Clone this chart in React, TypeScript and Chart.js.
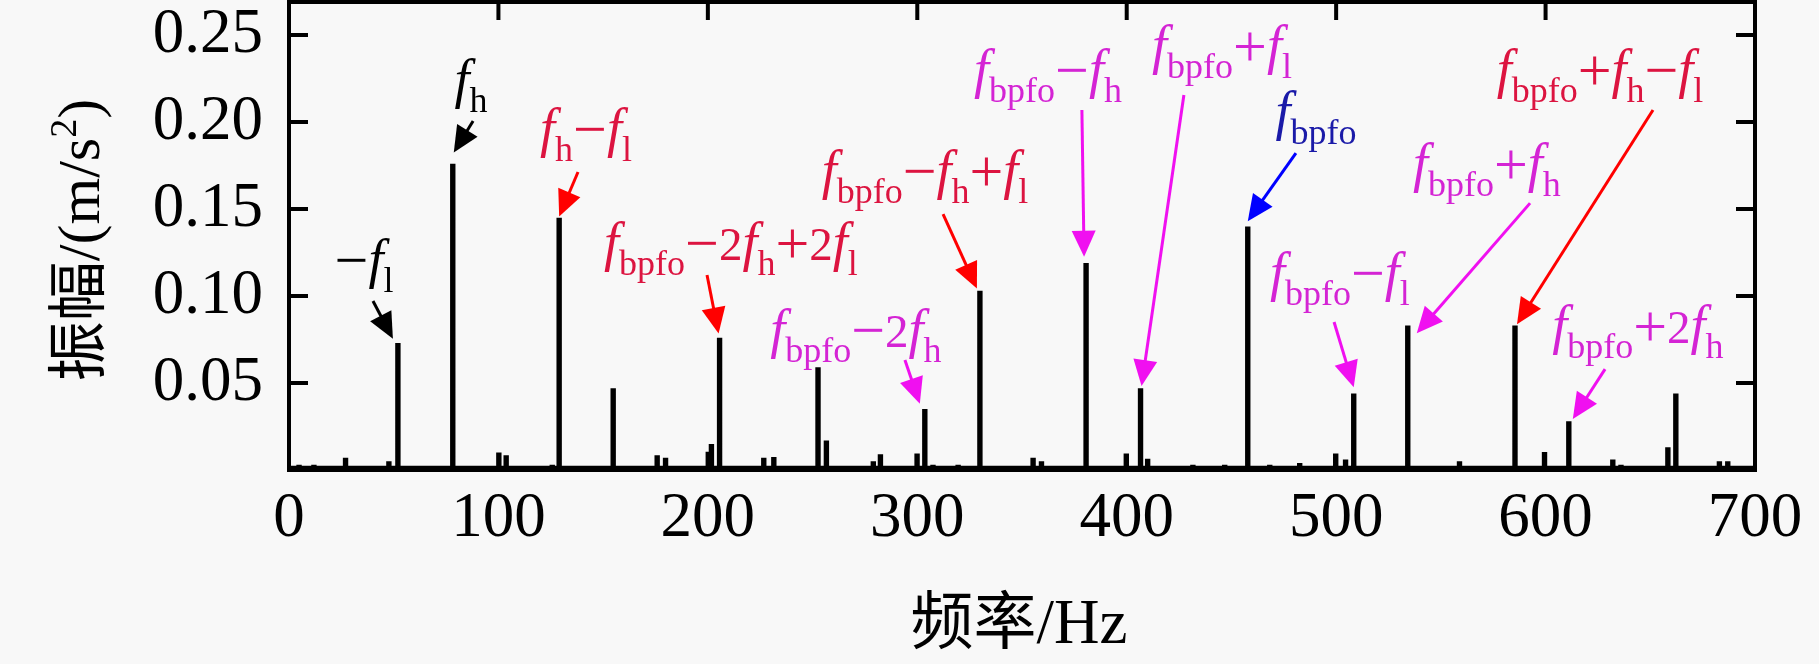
import React, { useEffect, useRef } from 'react';
import { Chart, registerables } from 'chart.js';

Chart.register(...registerables);

// ---------- data ----------
const peakFreqs = [
  4.8, 11.9, 27.0, 47.7, 52.0, 78.2, 100.2, 103.7, 125.7, 129.0, 154.8, 175.8, 179.8,
  200.2, 201.7, 205.6, 226.7, 231.5, 252.6, 256.6, 279.0, 282.4, 299.9, 303.6, 307.5,
  319.5, 329.9, 355.3, 359.3, 380.6, 399.8, 406.6, 410.0, 431.6, 446.8, 457.8, 468.3,
  482.6, 499.8, 504.5, 508.4, 534.2, 558.9, 585.4, 599.5, 611.1, 632.1, 636.0, 658.4,
  662.2, 683.0, 687.0,
];
const peakAmps = [
  0.002, 0.002, 0.006, 0.004, 0.072, 0.175, 0.009, 0.0075, 0.002, 0.144, 0.046, 0.0075, 0.006,
  0.0095, 0.014, 0.075, 0.006, 0.0065, 0.058, 0.016, 0.004, 0.008, 0.0085, 0.034, 0.002,
  0.002, 0.102, 0.006, 0.004, 0.118, 0.0085, 0.046, 0.0055, 0.002, 0.002, 0.139, 0.002,
  0.003, 0.0085, 0.005, 0.043, 0.082, 0.004, 0.082, 0.0094, 0.027, 0.005, 0.002, 0.012,
  0.043, 0.004, 0.004,
];
const noiseFloor = 0.0015;
const xTickValues = [0, 100, 200, 300, 400, 500, 600, 700];
const yTickValues = [0.05, 0.1, 0.15, 0.2, 0.25];
const xRange = [0, 700];
const yRange = [0, 0.269];
const xTitle = '频率/Hz';
const yTitleMain = '振幅/(m/s';
const yTitleSup = '2';
const yTitleEnd = ')';

// annotations: label (centre freq, baseline amp), arrow start (freq, amp), target peak freq
const RED_T = '#dc1440';
const RED_A = '#ff0000';
const MAG_T = '#d424d4';
const MAG_A = '#f010f0';
const BLUE_T = '#1a1aa8';
const BLUE_A = '#0000ff';
const BLK = '#000000';

type Ann = {
  text: string; tc: string; ac: string;
  lf: number; la: number; sf: number; sa: number;
  peak: number; tdx: number; tdy: number;
};
const annotations: Ann[] = [
  { text: '−f_{l}', tc: BLK, ac: BLK, lf: 35.8, la: 0.1109, sf: 40.1, sa: 0.0971, peak: 52.0, tdx: -5, tdy: -6 },
  { text: 'f_{h}', tc: BLK, ac: BLK, lf: 86.9, la: 0.2144, sf: 87.9, sa: 0.2006, peak: 78.2, tdx: 1, tdy: -13 },
  { text: 'f_{h}−f_{l}', tc: RED_T, ac: RED_A, lf: 141.8, la: 0.1862, sf: 138.0, sa: 0.1713, peak: 129.0, tdx: 0, tdy: -3 },
  { text: 'f_{bpfo}−2f_{h}+2f_{l}', tc: RED_T, ac: RED_A, lf: 211.0, la: 0.1207, sf: 199.6, sa: 0.1121, peak: 205.6, tdx: -1, tdy: -6 },
  { text: 'f_{bpfo}−2f_{h}', tc: MAG_T, ac: MAG_A, lf: 270.7, la: 0.0707, sf: 294.1, sa: 0.0632, peak: 303.6, tdx: -5, tdy: -7 },
  { text: 'f_{bpfo}−f_{h}+f_{l}', tc: RED_T, ac: RED_A, lf: 303.7, la: 0.1621, sf: 312.3, sa: 0.1471, peak: 329.9, tdx: -3, tdy: -4 },
  { text: 'f_{bpfo}−f_{h}', tc: MAG_T, ac: MAG_A, lf: 362.4, la: 0.2201, sf: 378.6, sa: 0.2069, peak: 380.6, tdx: -2, tdy: -8 },
  { text: 'f_{bpfo}+f_{l}', tc: MAG_T, ac: MAG_A, lf: 445.5, la: 0.2339, sf: 427.3, sa: 0.2155, peak: 406.6, tdx: 1, tdy: -4 },
  { text: 'f_{bpfo}', tc: BLUE_T, ac: BLUE_A, lf: 490.4, la: 0.196, sf: 480.8, sa: 0.1822, peak: 457.8, tdx: 0, tdy: -7 },
  { text: 'f_{bpfo}−f_{l}', tc: MAG_T, ac: MAG_A, lf: 501.8, la: 0.1034, sf: 499.0, sa: 0.0851, peak: 508.4, tdx: 0, tdy: -8 },
  { text: 'f_{bpfo}+f_{h}', tc: MAG_T, ac: MAG_A, lf: 572.0, la: 0.1661, sf: 592.6, sa: 0.1534, peak: 534.2, tdx: 9, tdy: 6 },
  { text: 'f_{bpfo}+f_{h}−f_{l}', tc: RED_T, ac: RED_A, lf: 626.0, la: 0.2201, sf: 651.3, sa: 0.2069, peak: 585.4, tdx: 2, tdy: -3 },
  { text: 'f_{bpfo}+2f_{h}', tc: MAG_T, ac: MAG_A, lf: 644.1, la: 0.073, sf: 628.4, sa: 0.058, peak: 611.1, tdx: 4, tdy: -4 },
];

// ---------- styles ----------
const SERIF = "'Liberation Serif', 'Times New Roman', serif";
const TITLE_FONT = "63px 'Liberation Serif', 'Noto Sans CJK SC', serif";
const YTITLE_FONT = "60px 'Liberation Serif', 'Noto Sans CJK SC', serif";
const SEG_FONT: Record<string, string> = {
  it: `italic 54px ${SERIF}`,
  sub: `36px ${SERIF}`,
  op: `60px ${SERIF}`,
  rm: `47px ${SERIF}`,
};
const SEG_DY: Record<string, number> = { it: 0, sub: 15, op: 3, rm: 0 };

type Seg = { t: string; k: string };
function parseLabel(s: string): Seg[] {
  const segs: Seg[] = [];
  let i = 0;
  while (i < s.length) {
    const c = s[i];
    if (c === '_' && s[i + 1] === '{') {
      const j = s.indexOf('}', i);
      segs.push({ t: s.slice(i + 2, j), k: 'sub' });
      i = j + 1;
      continue;
    }
    if (c === 'f') segs.push({ t: c, k: 'it' });
    else if (c === '−' || c === '+') segs.push({ t: c, k: 'op' });
    else segs.push({ t: c, k: 'rm' });
    i++;
  }
  return segs;
}

function drawLabel(ctx: CanvasRenderingContext2D, text: string, cx: number, by: number, color: string) {
  const segs = parseLabel(text);
  let total = 0;
  const widths = segs.map((s) => {
    ctx.font = SEG_FONT[s.k];
    const w = ctx.measureText(s.t).width;
    total += w;
    return w;
  });
  let x = cx - total / 2;
  ctx.fillStyle = color;
  ctx.textAlign = 'left';
  ctx.textBaseline = 'alphabetic';
  segs.forEach((s, i) => {
    ctx.font = SEG_FONT[s.k];
    ctx.fillText(s.t, x, by + SEG_DY[s.k]);
    x += widths[i];
  });
}

function drawArrow(ctx: CanvasRenderingContext2D, x0: number, y0: number, x1: number, y1: number, color: string) {
  const dx = x1 - x0;
  const dy = y1 - y0;
  const len = Math.hypot(dx, dy);
  const ux = dx / len;
  const uy = dy / len;
  const head = 26;
  const half = 12;
  const bx = x1 - ux * head;
  const by = y1 - uy * head;
  ctx.strokeStyle = color;
  ctx.fillStyle = color;
  ctx.lineWidth = 3;
  ctx.lineCap = 'butt';
  ctx.beginPath();
  ctx.moveTo(x0, y0);
  ctx.lineTo(bx + ux * 4, by + uy * 4);
  ctx.stroke();
  ctx.beginPath();
  ctx.moveTo(x1, y1);
  ctx.lineTo(bx - uy * half, by + ux * half);
  ctx.lineTo(bx + uy * half, by - ux * half);
  ctx.closePath();
  ctx.fill();
}

function buildSpectrum() {
  const idx = peakFreqs.map((_, i) => i).sort((a, b) => peakFreqs[a] - peakFreqs[b]);
  const pts: { x: number; y: number }[] = [{ x: xRange[0] + 0.5, y: noiseFloor }];
  const hw = 0.45;
  idx.forEach((i) => {
    const f = peakFreqs[i];
    const a = peakAmps[i];
    pts.push({ x: f - hw, y: noiseFloor });
    pts.push({ x: f - hw, y: a });
    pts.push({ x: f + hw, y: a });
    pts.push({ x: f + hw, y: noiseFloor });
  });
  pts.push({ x: xRange[1] - 0.5, y: noiseFloor });
  return pts;
}

const decorPlugin = {
  id: 'decor',
  beforeDraw(chart: any) {
    const ctx = chart.ctx as CanvasRenderingContext2D;
    ctx.save();
    ctx.fillStyle = '#f8f8f8';
    ctx.fillRect(0, 0, chart.width, chart.height);
    ctx.restore();
  },
  afterDatasetsDraw(chart: any) {
    const ctx = chart.ctx as CanvasRenderingContext2D;
    const { left, right, top, bottom } = chart.chartArea;
    const xs = chart.scales.x;
    const ys = chart.scales.y;
    ctx.save();
    // frame
    ctx.strokeStyle = '#000';
    ctx.lineWidth = 4;
    ctx.lineJoin = 'miter';
    ctx.strokeRect(left, top, right - left, bottom - top);
    // inner ticks
    ctx.lineWidth = 4;
    ctx.lineCap = 'butt';
    ctx.beginPath();
    yTickValues.forEach((v) => {
      const py = ys.getPixelForValue(v);
      ctx.moveTo(left, py);
      ctx.lineTo(left + 19, py);
      ctx.moveTo(right, py);
      ctx.lineTo(right - 19, py);
    });
    xTickValues.forEach((v) => {
      if (v <= xRange[0] || v >= xRange[1]) return;
      const px = xs.getPixelForValue(v);
      ctx.moveTo(px, top);
      ctx.lineTo(px, top + 18);
    });
    ctx.stroke();

    // annotations
    annotations.forEach((a) => {
      const pi = peakFreqs.indexOf(a.peak);
      const px = xs.getPixelForValue(peakFreqs[pi]);
      const py = ys.getPixelForValue(peakAmps[pi]);
      const sx = xs.getPixelForValue(a.sf);
      const sy = ys.getPixelForValue(a.sa);
      drawArrow(ctx, sx, sy, px + a.tdx, py + a.tdy, a.ac);
      drawLabel(ctx, a.text, xs.getPixelForValue(a.lf), ys.getPixelForValue(a.la), a.tc);
    });

    // axis titles
    ctx.fillStyle = '#000';
    ctx.font = TITLE_FONT;
    ctx.textAlign = 'center';
    ctx.textBaseline = 'alphabetic';
    ctx.fillText(xTitle, (left + right) / 2 - 3, bottom + 173);

    ctx.translate(99, 240);
    ctx.rotate(-Math.PI / 2);
    const supFont = `38px ${SERIF}`;
    ctx.font = YTITLE_FONT;
    const w1 = ctx.measureText(yTitleMain).width;
    const w3 = ctx.measureText(yTitleEnd).width;
    ctx.font = supFont;
    const w2 = ctx.measureText(yTitleSup).width;
    let x = -(w1 + w2 + w3) / 2;
    ctx.textAlign = 'left';
    ctx.font = YTITLE_FONT;
    ctx.fillText(yTitleMain, x, 0);
    x += w1;
    ctx.font = supFont;
    ctx.fillText(yTitleSup, x, -23);
    x += w2;
    ctx.font = YTITLE_FONT;
    ctx.fillText(yTitleEnd, x, 0);
    ctx.restore();
  },
};

export default function App() {
  const ref = useRef<HTMLCanvasElement | null>(null);
  useEffect(() => {
    document.body.style.margin = '0';
    document.body.style.background = '#f8f8f8';
    const canvas = ref.current;
    if (!canvas) return;
    const chart = new Chart(canvas, {
      type: 'line',
      data: {
        datasets: [
          {
            data: buildSpectrum(),
            borderColor: '#000',
            borderWidth: 3.5,
            pointRadius: 0,
            tension: 0,
            fill: false,
            borderJoinStyle: 'miter',
          },
        ],
      },
      options: {
        animation: false,
        responsive: false,
        parsing: false,
        layout: { padding: { left: 0, right: 64, top: 2, bottom: 0 } },
        plugins: { legend: { display: false }, tooltip: { enabled: false } },
        scales: {
          x: {
            type: 'linear',
            min: xRange[0],
            max: xRange[1],
            afterBuildTicks: (s: any) => {
              s.ticks = xTickValues.map((v) => ({ value: v }));
            },
            afterFit: (s: any) => {
              s.height = 194;
              s.paddingLeft = 0;
              s.paddingRight = 0;
            },
            ticks: {
              autoSkip: false,
              maxRotation: 0,
              padding: 12,
              color: '#000',
              font: { family: SERIF, size: 63 },
              callback: (v: any) => String(v),
            },
            grid: { display: false, drawTicks: false },
            border: { display: false },
          },
          y: {
            type: 'linear',
            min: yRange[0],
            max: yRange[1],
            afterBuildTicks: (s: any) => {
              s.ticks = yTickValues.map((v) => ({ value: v }));
            },
            afterFit: (s: any) => {
              s.width = 289;
              s.paddingTop = 0;
              s.paddingBottom = 0;
            },
            ticks: {
              padding: 26,
              color: '#000',
              font: { family: SERIF, size: 63 },
              callback: (v: any) => Number(v).toFixed(2),
            },
            grid: { display: false, drawTicks: false },
            border: { display: false },
          },
        },
      },
      plugins: [decorPlugin],
    } as any);
    return () => chart.destroy();
  }, []);
  return (
    <div style={{ width: 1819, height: 664 }}>
      <canvas ref={ref} width={1819} height={664} style={{ display: 'block' }} />
    </div>
  );
}
